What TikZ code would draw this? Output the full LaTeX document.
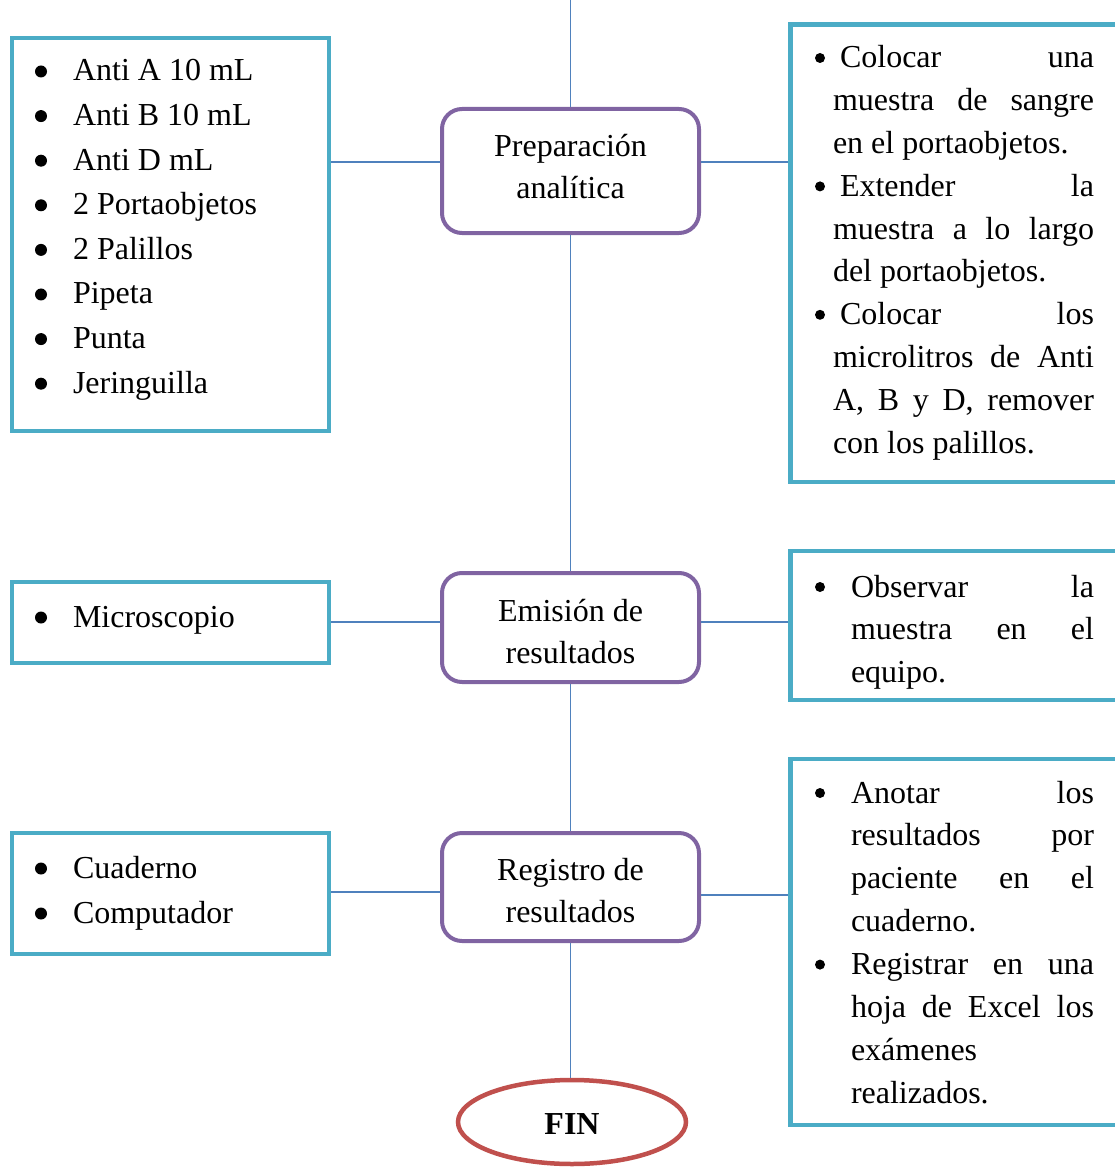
\documentclass[tikz,border=0pt]{standalone}
\usepackage{fontspec}
\setmainfont{Liberation Serif}
\usetikzlibrary{shapes.geometric}
\definecolor{boxteal}{HTML}{4BACC6}
\definecolor{steppurple}{HTML}{8064A2}
\definecolor{linkblue}{HTML}{4F81BD}
\definecolor{endred}{HTML}{C0504D}
% list bullets: filled discs set on the text baseline
\newcommand{\lbl}[1]{\makebox[#1][l]{\raisebox{3.5pt}{\tikz\fill (0,0) circle (6pt);}}}
\newcommand{\rbl}[1]{\makebox[#1][l]{\hspace*{2pt}\raisebox{5pt}{\tikz\fill (0,0) circle (5pt);}}}
\begin{document}
\begin{tikzpicture}[x=1pt,y=-1pt,
  listbox/.style={draw=boxteal,line width=4.5pt,fill=white},
  stepbox/.style={draw=steppurple,line width=4pt,rounded corners=20pt,fill=white,
    minimum width=257pt},
  link/.style={draw=linkblue,line width=1.6pt},
  txt/.style={inner sep=0pt,outer sep=0pt,anchor=base west},
  steptxt/.style={inner sep=0pt,outer sep=0pt,anchor=base}]
\useasboundingbox (0,0) rectangle (1115,1169);

% connector levels
\coordinate (top) at (570.5,0);
\coordinate (h1) at (0,162);
\coordinate (h2) at (0,622);
\coordinate (h3l) at (0,892);
\coordinate (h3r) at (0,895);

% material boxes (left)
\node[listbox,minimum width=317pt,minimum height=393pt] (mat1) at (170.5,234.5) {};
\node[listbox,minimum width=317pt,minimum height=81pt] (mat2) at (170.5,622.5) {};
\node[listbox,minimum width=317pt,minimum height=121pt] (mat3) at (170.5,893.5) {};

% activity boxes (right)
\node[listbox,minimum width=327.5pt,minimum height=457.5pt] (act1) at (954.25,253.25) {};
\node[listbox,minimum width=327.5pt,minimum height=149pt] (act2) at (954.25,625.5) {};
\node[listbox,minimum width=327.5pt,minimum height=366pt] (act3) at (954.25,942) {};

% process steps
\node[stepbox,minimum height=124pt] (prep) at (570.5,171) {};
\node[stepbox,minimum height=109pt] (emi) at (570.5,627.5) {};
\node[stepbox,minimum height=108pt] (reg) at (570.5,887) {};
\node[ellipse,draw=endred,line width=4.5pt,fill=white,minimum width=228pt,minimum height=84pt] (fin) at (572,1122) {};

\node[steptxt] (preptxt) at (570.5,157) {\parbox[t]{250pt}{\centering\fontsize{32pt}{42pt}\selectfont Preparación\\analítica}};
\node[steptxt] (emitxt) at (570.5,621) {\parbox[t]{250pt}{\centering\fontsize{32pt}{42pt}\selectfont Emisión de\\resultados}};
\node[steptxt] (regtxt) at (570.5,880) {\parbox[t]{250pt}{\centering\fontsize{32pt}{42pt}\selectfont Registro de\\resultados}};
\node[steptxt] (fintxt) at (572,1134) {\fontsize{32pt}{38pt}\selectfont\bfseries FIN};

% main flow
\draw[link] (top) -- (prep.north);
\draw[link] (prep.south) -- (emi.north);
\draw[link] (emi.south) -- (reg.north);
\draw[link] (reg.south) -- (reg.south |- fin.north);

% side links
\draw[link] (mat1.east |- h1) -- (prep.west |- h1);
\draw[link] (prep.east |- h1) -- (act1.west |- h1);
\draw[link] (mat2.east |- h2) -- (emi.west |- h2);
\draw[link] (emi.east |- h2) -- (act2.west |- h2);
\draw[link] (mat3.east |- h3l) -- (reg.west |- h3l);
\draw[link] (reg.east |- h3r) -- (act3.west |- h3r);

% materials
\node[txt] (matlist1) at (35,81) {\parbox[t]{290pt}{\fontsize{32pt}{44.6pt}\selectfont
\lbl{38pt}Anti A 10 mL\\
\lbl{38pt}Anti B 10 mL\\
\lbl{38pt}Anti D mL\\
\lbl{38pt}2 Portaobjetos\\
\lbl{38pt}2 Palillos\\
\lbl{38pt}Pipeta\\
\lbl{38pt}Punta\\
\lbl{38pt}Jeringuilla}};
\node[txt] (matlist2) at (35,627) {\parbox[t]{290pt}{\fontsize{32pt}{44.6pt}\selectfont
\lbl{38pt}Microscopio}};
\node[txt] (matlist3) at (35,878) {\parbox[t]{290pt}{\fontsize{32pt}{45pt}\selectfont
\lbl{38pt}Cuaderno\\
\lbl{38pt}Computador}};

% activities
\node[txt] (actlist1) at (813,68) {\parbox[t]{281pt}{\fontsize{32pt}{42.8pt}\selectfont
\rbl{27pt}\makebox[254pt][s]{Colocar\hfill una}\\
\hspace*{20pt}\makebox[261pt][s]{muestra de sangre}\\
\hspace*{20pt}en el portaobjetos.\\
\rbl{27pt}\makebox[254pt][s]{Extender\hfill la}\\
\hspace*{20pt}\makebox[261pt][s]{muestra a lo largo}\\
\hspace*{20pt}del portaobjetos.\\
\rbl{27pt}\makebox[254pt][s]{Colocar\hfill los}\\
\hspace*{20pt}\makebox[261pt][s]{microlitros de Anti}\\
\hspace*{20pt}\makebox[261pt][s]{A, B y D, remover}\\
\hspace*{20pt}con los palillos.}};
\node[txt] (actlist2) at (813,597) {\parbox[t]{281pt}{\fontsize{32pt}{42.5pt}\selectfont
\rbl{38pt}\makebox[243pt][s]{Observar\hfill la}\\
\hspace*{38pt}\makebox[243pt][s]{muestra en el}\\
\hspace*{38pt}equipo.}};
\node[txt] (actlist3) at (813,803) {\parbox[t]{281pt}{\fontsize{32pt}{42.9pt}\selectfont
\rbl{38pt}\makebox[243pt][s]{Anotar\hfill los}\\
\hspace*{38pt}\makebox[243pt][s]{resultados\hfill por}\\
\hspace*{38pt}\makebox[243pt][s]{paciente en el}\\
\hspace*{38pt}cuaderno.\\
\rbl{38pt}\makebox[243pt][s]{Registrar en una}\\
\hspace*{38pt}\makebox[243pt][s]{hoja de Excel los}\\
\hspace*{38pt}exámenes\\
\hspace*{38pt}realizados.}};
\end{tikzpicture}
\end{document}
